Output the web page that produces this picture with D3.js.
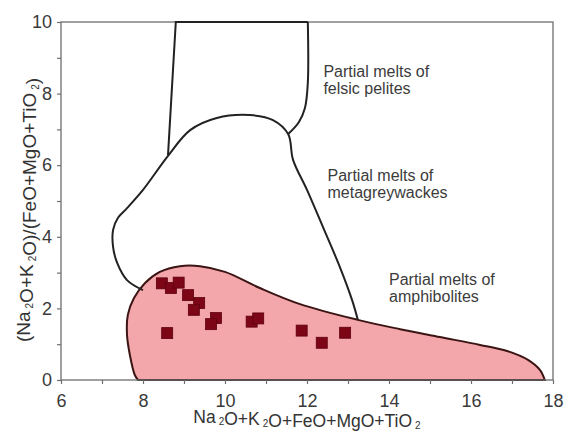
<!DOCTYPE html>
<html>
<head>
<meta charset="utf-8">
<script src="https://cdn.jsdelivr.net/npm/d3@7"></script>
<style>
  body { margin: 0; background: #fff; }
  text { font-family: "Liberation Sans", Arial, sans-serif; }
</style>
</head>
<body>
<script>
// tick values
const xTicks = [6, 8, 10, 12, 14, 16, 18];
const yTicks = [0, 2, 4, 6, 8, 10];

// samples (squares)
const sampleX = [8.46, 8.68, 8.87, 9.10, 9.37, 9.24, 9.78, 9.66, 8.59, 10.65, 10.81, 11.87, 12.36, 12.93];
const sampleY = [2.70, 2.57, 2.72, 2.37, 2.15, 1.96, 1.73, 1.56, 1.31, 1.63, 1.72, 1.38, 1.04, 1.32];

// field boundaries [x, y]
const amphibolites = [[7.88,0],[7.80,0.14],[7.68,0.7],[7.61,1.26],[7.63,1.82],[7.78,2.29],[8.05,2.71],[8.41,3.02],
  [8.9,3.18],[9.39,3.18],[10.0,3.02],[10.85,2.57],[11.83,2.12],[13.24,1.68],[14.27,1.42],[15.24,1.2],
  [16.22,0.98],[16.88,0.81],[17.39,0.56],[17.68,0.28],[17.8,0]];
const metagreywackes = [[8.0,2.51],[7.61,2.79],[7.37,3.27],[7.27,3.72],[7.27,4.19],[7.39,4.53],[7.61,4.8],
  [8.0,5.31],[8.61,6.26],[9.15,6.98],[9.8,7.32],[10.61,7.4],[11.17,7.26],[11.54,6.87],[11.66,6.15],
  [12.0,5.31],[12.39,4.27],[12.8,3.16],[13.1,2.23],[13.24,1.68]];
const pelitesLeft = [[8.61,6.28],[8.80,10],[12.02,10]];
const pelitesRight = [[12.02,10],[12.02,8.3],[11.95,7.6],[11.8,7.2],[11.54,6.87]];

const fieldLabels = [
  {lines: ["Partial melts of", "felsic pelites"], x: 12.4, y: 8.46},
  {lines: ["Partial melts of", "metagreywackes"], x: 12.5, y: 5.57},
  {lines: ["Partial melts of", "amphibolites"], x: 14.0, y: 2.65}
];

const W = 569, H = 432;
const margin = {left: 61, right: 16, top: 22, bottom: 52};

const svg = d3.select("body").append("svg")
    .attr("width", W)
    .attr("height", H);

const x = d3.scaleLinear().domain([6, 18]).range([margin.left, W - margin.right]);
const y = d3.scaleLinear().domain([0, 10]).range([H - margin.bottom, margin.top]);

const line = d3.line().x(d => x(d[0])).y(d => y(d[1]));

// amphibolite field (filled)
svg.append("path")
    .attr("d", line.curve(d3.curveCatmullRom)(amphibolites) + "Z")
    .attr("fill", "#f4a7ab")
    .attr("stroke", "#3b1414")
    .attr("stroke-width", 2);

// frame
svg.append("rect")
    .attr("x", x(6)).attr("y", y(10))
    .attr("width", x(18) - x(6)).attr("height", y(0) - y(10))
    .attr("fill", "none")
    .attr("stroke", "#6e6e6e")
    .attr("stroke-width", 1.3);

// other field lines
svg.append("path")
    .attr("d", line.curve(d3.curveCatmullRom)(metagreywackes))
    .attr("fill", "none").attr("stroke", "#222").attr("stroke-width", 2);
svg.append("path")
    .attr("d", line.curve(d3.curveLinear)(pelitesLeft))
    .attr("fill", "none").attr("stroke", "#222").attr("stroke-width", 2);
svg.append("path")
    .attr("d", line.curve(d3.curveCatmullRom)(pelitesRight))
    .attr("fill", "none").attr("stroke", "#222").attr("stroke-width", 2);

// axes
const xAxis = svg.append("g")
    .attr("transform", `translate(0,${y(0)})`)
    .call(d3.axisBottom(x).tickValues(d3.range(6, 19, 1)).tickSize(4).tickFormat(d => xTicks.includes(d) ? d : ""));
const yAxis = svg.append("g")
    .attr("transform", `translate(${x(6)},0)`)
    .call(d3.axisLeft(y).tickValues(d3.range(0, 11, 1)).tickSize(4).tickFormat(d => yTicks.includes(d) ? d : ""));

[xAxis, yAxis].forEach(g => {
  g.select(".domain").remove();
  g.selectAll(".tick line").attr("stroke", "#6e6e6e").attr("stroke-width", 1.2);
  g.selectAll(".tick text").attr("fill", "#3a3a3a").style("font-size", "18px")
      .style("font-family", "'Liberation Sans', Arial, sans-serif");
});
xAxis.selectAll(".tick text").attr("dy", 0).attr("y", 27);
yAxis.selectAll(".tick text").attr("x", -9);

// samples
const side = 11;
svg.append("g").selectAll("rect")
    .data(sampleX.map((v, i) => [v, sampleY[i]]))
    .enter()
    .append("rect")
    .attr("x", d => x(d[0]) - side / 2)
    .attr("y", d => y(d[1]) - side / 2)
    .attr("width", side)
    .attr("height", side)
    .attr("fill", "#7c0516")
    .attr("stroke", "#5e0010")
    .attr("stroke-width", 0.8);

// field labels
fieldLabels.forEach(f => {
  const t = svg.append("text")
      .attr("x", x(f.x))
      .attr("y", y(f.y))
      .attr("fill", "#3c3c3c")
      .style("font-size", "16px");
  f.lines.forEach((s, i) => {
    t.append("tspan").attr("x", x(f.x)).attr("dy", i === 0 ? 0 : 17).text(s);
  });
});

// axis titles with subscripts
function formula(sel, parts, shift) {
  parts.forEach(p => {
    if (p.sub) {
      sel.append("tspan").attr("dx", 3).attr("dy", shift).style("font-size", "10px").text(p.t);
      sel.append("tspan").attr("dy", -shift).text("");
    } else {
      sel.append("tspan").text(p.t);
    }
  });
}

const xTitle = svg.append("text")
    .attr("x", (x(6) + x(18)) / 2)
    .attr("y", 423)
    .attr("text-anchor", "middle")
    .attr("fill", "#333")
    .style("font-size", "17.5px");
formula(xTitle, [{t: "Na"}, {t: "2", sub: true}, {t: "O+K"}, {t: "2", sub: true}, {t: "O+FeO+MgO+TiO"}, {t: "2", sub: true}], 2);

const yTitle = svg.append("text")
    .attr("transform", `translate(30,${210}) rotate(-90)`)
    .attr("text-anchor", "middle")
    .attr("fill", "#333")
    .style("font-size", "19px");
formula(yTitle, [{t: "(Na"}, {t: "2", sub: true}, {t: "O+K"}, {t: "2", sub: true}, {t: "O)/(FeO+MgO+TiO"}, {t: "2", sub: true}, {t: ")"}], 3);
</script>
</body>
</html>
